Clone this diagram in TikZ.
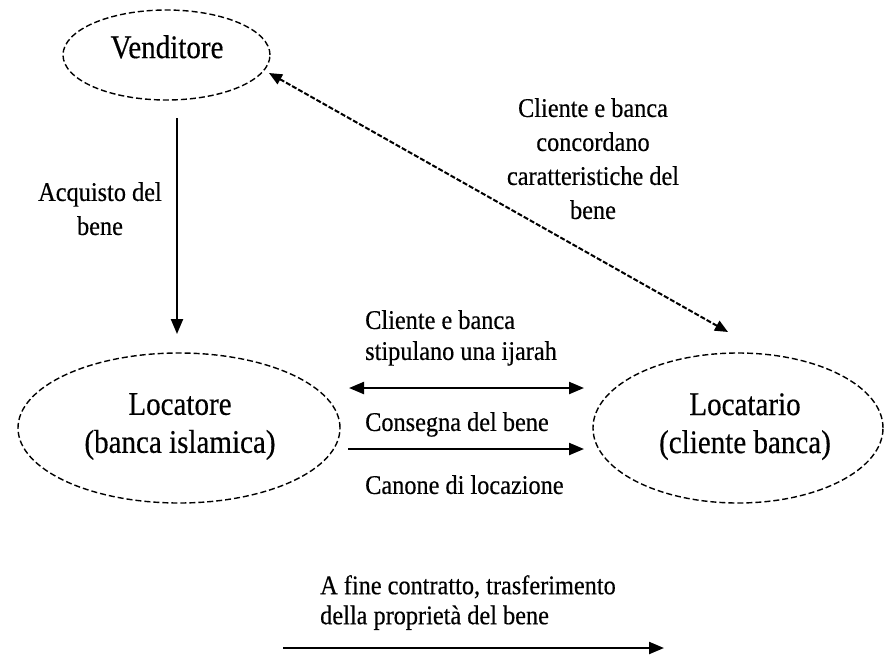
\documentclass[tikz,border=0pt]{standalone}
\usepackage{fontspec}
\setmainfont{Liberation Serif}
\newfontfamily\mainf{Liberation Serif}[FakeStretch=0.88,FakeBold=0.4]
\newfontfamily\edgef{Liberation Serif}[FakeStretch=0.9,FakeBold=0.4]
\usetikzlibrary{shapes.geometric,arrows.meta}
\begin{document}
\begin{tikzpicture}[x=1pt,y=-1pt,
  ell/.style={draw, ellipse, line width=1.4pt, dash pattern=on 6pt off 3pt, inner sep=0pt},
  mainlbl/.style={font=\mainf\fontsize{33}{38}\selectfont, align=center, inner sep=0pt},
  edgelbl/.style={font=\edgef\fontsize{27}{34}\selectfont, inner sep=0pt},
  conn/.style={line width=2.2pt, -{Triangle[length=15pt,width=12pt]}},
  dconn/.style={line width=2.2pt, {Triangle[length=15pt,width=12pt]}-{Triangle[length=15pt,width=12pt]}},
  diag/.style={line width=2pt, dash pattern=on 5pt off 2pt, {Triangle[length=13pt,width=11pt]}-{Triangle[length=13pt,width=11pt]}}
]
\useasboundingbox (0,0) rectangle (884,657);

% ellipses
\node[ell, minimum width=207pt, minimum height=90pt] (ven) at (166.5,55) {};
\node[ell, minimum width=322pt, minimum height=150pt] (lor) at (179,428) {};
\node[ell, minimum width=290pt, minimum height=150pt] (lar) at (738,428) {};

% main labels
\node[mainlbl, anchor=north] (venT) at (167,35) {Venditore};
\node[mainlbl, anchor=north] (lorT) at (180,393) {Locatore\\(banca islamica)};
\node[mainlbl, anchor=north] (larT) at (745,393) {Locatario\\(cliente banca)};

% edge labels
\node[edgelbl, align=center, anchor=north] (acq) at (100,182) {Acquisto del\\bene};
\node[edgelbl, align=center, anchor=north] (conc) at (593,98) {Cliente e banca\\concordano\\caratteristiche del\\bene};
\node[edgelbl, align=left, anchor=north west, font=\edgef\fontsize{27}{31}\selectfont] (stip) at (365,310) {Cliente e banca\\stipulano una ijarah};
\node[edgelbl, anchor=north west] (cons) at (365,412) {Consegna del bene};
\node[edgelbl, anchor=north west] (can) at (365,475) {Canone di locazione};
\node[edgelbl, align=left, anchor=north west, font=\edgef\fontsize{27}{30}\selectfont] (fine) at (320,575) {A fine contratto, trasferimento\\della propriet\`a del bene};

% connector endpoints
\coordinate (vA) at (177,118);
\coordinate (vB) at (177,334);
\coordinate (dA) at (269,73);
\coordinate (dB) at (728,332);
\coordinate (hA) at (349,388);
\coordinate (hB) at (584,388);
\coordinate (cA) at (348,449);
\coordinate (cB) at (584,449);
\coordinate (bA) at (283,648);
\coordinate (bB) at (664,648);

\draw[conn] (vA) -- (vB);
\draw[diag] (dA) -- (dB);
\draw[dconn] (hA) -- (hB);
\draw[conn] (cA) -- (cB);
\draw[conn] (bA) -- (bB);
\end{tikzpicture}
\end{document}
